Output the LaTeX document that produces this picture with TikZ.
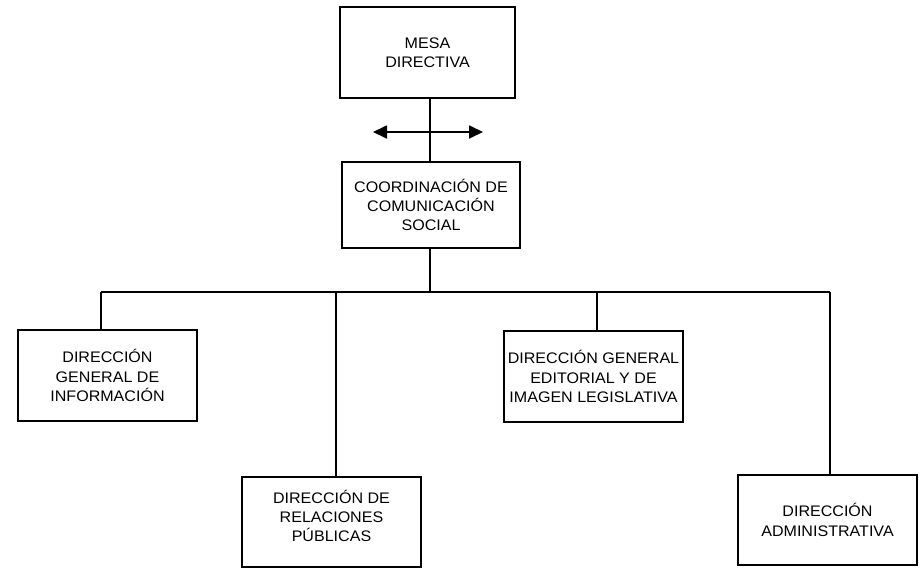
\documentclass[tikz,border=0pt]{standalone}
\usepackage{fontspec}
\setmainfont{Liberation Sans}[FakeStretch=1.05]
\usetikzlibrary{arrows.meta}
\begin{document}
\begin{tikzpicture}[x=1pt,y=-1pt,
  box/.style={draw=black,line width=1.8pt,align=center,inner sep=0pt,
    font=\fontsize{15.3}{19.3}\selectfont},
  conn/.style={line width=1.8pt},
  every node/.append style={text=black}]
\useasboundingbox (0,0) rectangle (920,568);
\node[box,minimum width=175pt,minimum height=91pt] (mesa) at (427.5,52.5) {MESA\\DIRECTIVA};
\node[box,minimum width=178pt,minimum height=86pt] (coord) at (431,205) {COORDINACIÓN DE\\COMUNICACIÓN\\SOCIAL};
\node[box,minimum width=179pt,minimum height=91pt] (b1) at (107.5,375.5) {DIRECCIÓN\\GENERAL DE\\INFORMACIÓN};
\node[box,minimum width=179pt,minimum height=90pt] (b2) at (331.5,522) {};
\node[font=\fontsize{15.3}{19.3}\selectfont,align=center] (b2t) at (331.5,516) {DIRECCIÓN DE\\RELACIONES\\PÚBLICAS};
\node[box,minimum width=179pt,minimum height=91pt] (b3) at (593.5,376.5) {DIRECCIÓN GENERAL\\EDITORIAL Y DE\\IMAGEN LEGISLATIVA};
\node[box,minimum width=179pt,minimum height=90pt] (b4) at (827.5,520) {DIRECCIÓN\\ADMINISTRATIVA};
\coordinate (bus) at (430,292);
\coordinate (tap1) at (101,292);
\coordinate (tap2) at (336,292);
\coordinate (tap3) at (597,292);
\coordinate (tap4) at (830,292);
\coordinate (al) at (373,132);
\coordinate (ar) at (483,132);
\draw[conn] (mesa.south -| bus) -- (coord.north -| bus);
\draw[conn,{Triangle[length=14pt,width=13pt]}-{Triangle[length=14pt,width=13pt]}] (al) -- (ar);
\draw[conn] (coord.south -| bus) -- (bus);
\draw[conn] (tap1) -- (tap4);
\draw[conn] (tap1) -- (tap1 |- b1.north);
\draw[conn] (tap2) -- (tap2 |- b2.north);
\draw[conn] (tap3) -- (tap3 |- b3.north);
\draw[conn] (tap4) -- (tap4 |- b4.north);
\end{tikzpicture}
\end{document}
